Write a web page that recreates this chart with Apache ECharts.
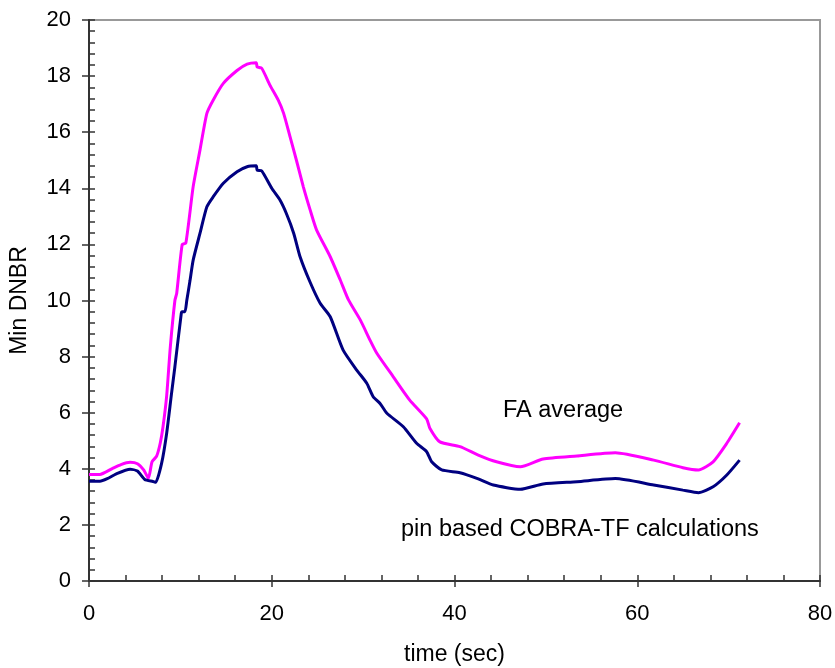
<!DOCTYPE html>
<html>
<head>
<meta charset="utf-8">
<style>html,body{margin:0;padding:0;background:#fff;}#c{width:835px;height:668px;}</style>
<script src="https://cdn.jsdelivr.net/npm/echarts@6/dist/echarts.min.js"></script>
</head>
<body>
<div id="c"></div>
<script>
// ---- data ----
const faTime  = [0, 1.2, 2.5, 3.5, 4.5, 5.3, 6.0, 6.5, 6.9, 7.4, 7.8, 8.1, 8.5, 8.9, 9.4, 9.6, 10.2, 10.6, 11.4, 12.15, 12.9, 13.6, 14.7, 16.2, 17.3, 18.3, 18.4, 18.9, 19.8, 20.7, 21.3, 22.0, 22.7, 23.45, 24.2, 24.9, 26.4, 27.5, 28.4, 29.7, 30.75, 31.5, 33.3, 35.1, 36.95, 37.3, 38.4, 40.6, 42.6, 44.6, 47.2, 49.7, 53.4, 57.6, 61.8, 65.0, 66.7, 68.3, 69.8, 71.2];
const faValue = [3.80, 3.80, 4.00, 4.15, 4.23, 4.18, 3.95, 3.66, 4.25, 4.45, 4.92, 5.5, 6.6, 8.35, 10.0, 10.26, 12.0, 12.05, 14.06, 15.37, 16.67, 17.15, 17.74, 18.2, 18.43, 18.48, 18.33, 18.28, 17.68, 17.15, 16.67, 15.84, 15.0, 14.06, 13.23, 12.52, 11.56, 10.73, 10.02, 9.3, 8.59, 8.12, 7.28, 6.45, 5.78, 5.45, 4.96, 4.79, 4.49, 4.25, 4.07, 4.35, 4.46, 4.57, 4.31, 4.04, 3.96, 4.25, 4.91, 5.64];
const pinTime  = [0, 1.2, 2.0, 3.0, 4.5, 5.3, 6.1, 7.0, 7.3, 7.95, 8.5, 9.0, 9.4, 10.1, 10.2, 10.5, 10.7, 11.05, 11.4, 12.15, 12.9, 13.6, 14.7, 16.2, 17.3, 18.3, 18.4, 18.9, 20.0, 20.9, 21.6, 22.4, 23.1, 24.2, 25.3, 26.4, 27.8, 29.3, 30.4, 31.1, 31.85, 32.6, 34.4, 35.85, 36.95, 37.5, 38.6, 40.6, 42.6, 44.25, 47.2, 49.7, 53.4, 57.6, 61.8, 65.0, 66.7, 68.3, 69.8, 71.2];
const pinValue = [3.56, 3.56, 3.65, 3.82, 3.98, 3.92, 3.62, 3.55, 3.52, 4.2, 5.27, 6.6, 7.64, 9.54, 9.6, 9.6, 10.0, 10.7, 11.44, 12.4, 13.34, 13.7, 14.18, 14.59, 14.77, 14.8, 14.65, 14.62, 14.0, 13.58, 13.1, 12.4, 11.56, 10.65, 9.9, 9.42, 8.24, 7.52, 7.05, 6.57, 6.33, 5.98, 5.5, 4.91, 4.61, 4.25, 3.96, 3.86, 3.64, 3.42, 3.27, 3.46, 3.54, 3.65, 3.42, 3.24, 3.15, 3.36, 3.78, 4.31];
const faLabel  = 'FA average';
const pinLabel = 'pin based COBRA-TF calculations';
const xName = 'time (sec)';
const yName = 'Min DNBR';

const FONT = 'Liberation Sans, Arial, sans-serif';
const chart = echarts.init(document.getElementById('c'));
const pairs = (xs, ys) => xs.map((x, i) => [x, ys[i]]);

chart.setOption({
  animation: false,
  backgroundColor: '#fff',
  grid: { left: 89, right: 15, top: 20, bottom: 87, outerBoundsMode: 'none', containLabel: false,
          show: true, borderColor: '#999', borderWidth: 2 },
  xAxis: [
    { type: 'value', min: 0, max: 80, interval: 20, position: 'bottom',
      name: xName, nameLocation: 'middle', nameGap: 62,
      nameTextStyle: { fontFamily: FONT, fontSize: 23, color: '#000' },
      axisLine: { show: true, lineStyle: { color: '#333', width: 2 } },
      axisTick: { show: true, inside: false, length: 6, lineStyle: { color: '#333', width: 1.5 } },
      axisLabel: { fontFamily: FONT, fontSize: 22, color: '#000', margin: 22 },
      splitLine: { show: false } },
    { type: 'value', min: 0, max: 80, interval: 4, position: 'bottom',
      axisLine: { show: false },
      axisTick: { show: true, inside: true, length: 6, lineStyle: { color: '#333', width: 1.5 } },
      axisLabel: { show: false }, splitLine: { show: false } }
  ],
  yAxis: [
    { type: 'value', min: 0, max: 20, interval: 2, position: 'left',
      name: yName, nameLocation: 'middle', nameGap: 58, nameRotate: 90,
      nameTextStyle: { fontFamily: FONT, fontSize: 23, color: '#000' },
      axisLine: { show: true, lineStyle: { color: '#333', width: 2 } },
      axisTick: { show: true, inside: false, length: 7, lineStyle: { color: '#333', width: 1.5 } },
      axisLabel: { fontFamily: FONT, fontSize: 22, color: '#000', margin: 18 },
      splitLine: { show: false } },
    { type: 'value', min: 0, max: 20, interval: 0.4, position: 'left',
      axisLine: { show: false },
      axisTick: { show: true, inside: true, length: 6, lineStyle: { color: '#333', width: 1.5 } },
      axisLabel: { show: false }, splitLine: { show: false } }
  ],
  series: [
    { name: faLabel, type: 'line', xAxisIndex: 0, yAxisIndex: 0, data: pairs(faTime, faValue),
      showSymbol: false, smooth: 0.2, lineStyle: { color: '#FF00FF', width: 3 }, z: 3 },
    { name: pinLabel, type: 'line', xAxisIndex: 0, yAxisIndex: 0, data: pairs(pinTime, pinValue),
      showSymbol: false, smooth: 0.2, lineStyle: { color: '#000080', width: 3 }, z: 3 }
  ],
  graphic: [
    { type: 'text', left: 503, top: 399, style: { text: faLabel, font: '23.5px ' + FONT, fill: '#000' } },
    { type: 'text', left: 401, top: 518, style: { text: pinLabel, font: '23.5px ' + FONT, fill: '#000' } }
  ]
});
</script>
</body>
</html>
